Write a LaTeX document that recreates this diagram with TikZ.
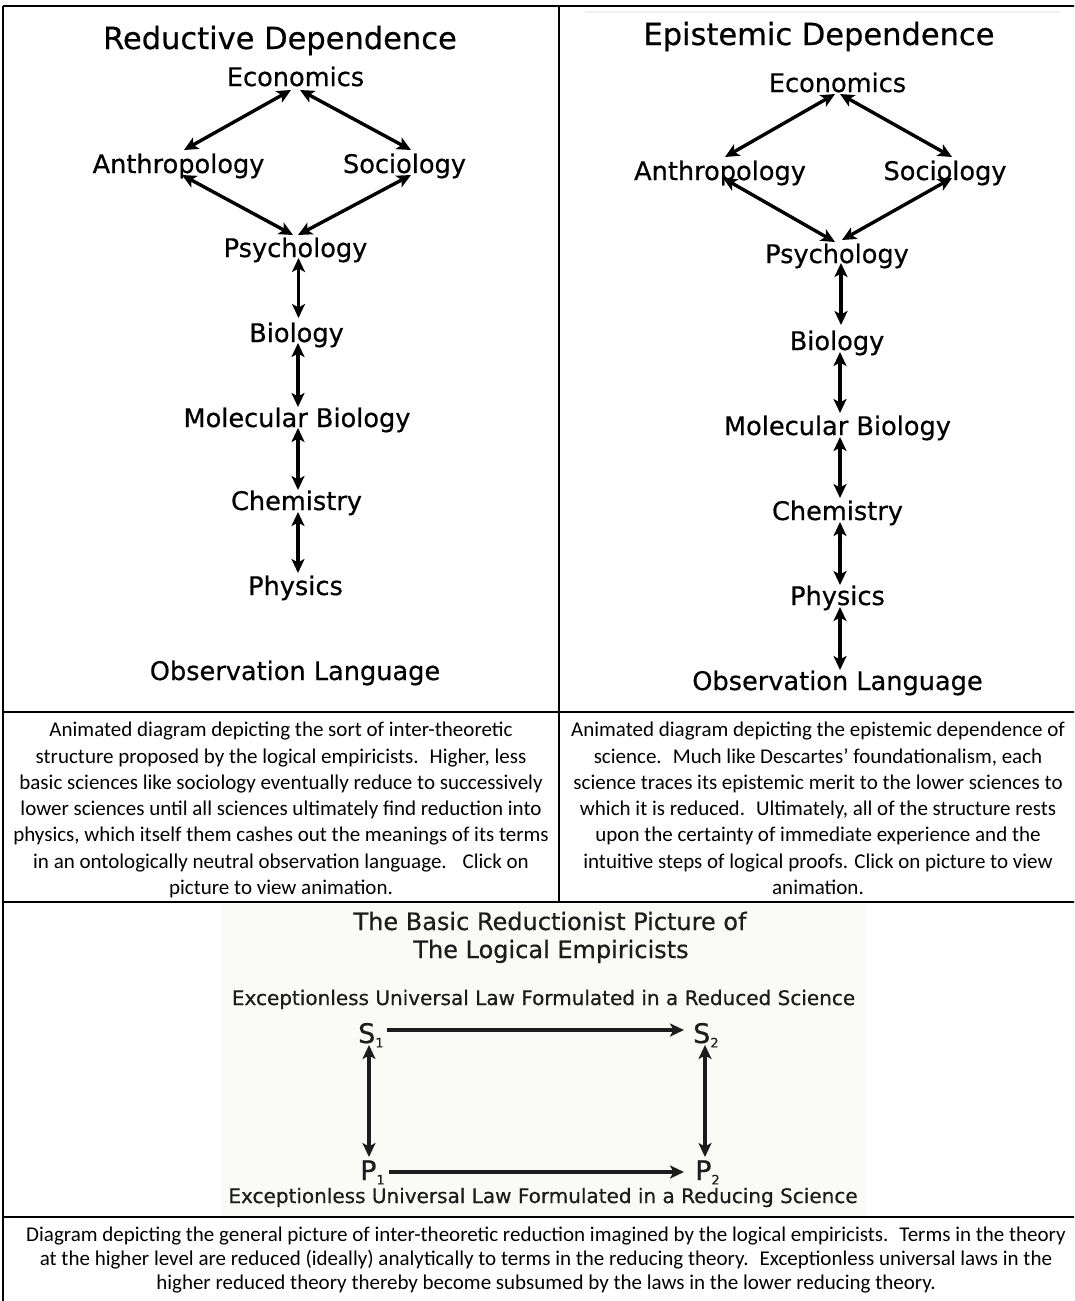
\documentclass[tikz,border=0pt]{standalone}
\usepackage{fontspec}
\setmainfont{Carlito}
\newfontfamily\comicf[RawFeature={embolden=0.6}]{DejaVu Sans}
\usetikzlibrary{arrows.meta,calc}
\definecolor{bgc}{RGB}{250,250,247}
\definecolor{ink}{RGB}{28,28,28}
\newcommand\sbs[1]{\raisebox{-0.3ex}{\fontsize{13}{13}\selectfont #1}}
\begin{document}
\begin{tikzpicture}[x=1pt,y=-1pt,
  lbl/.style={inner sep=0pt,anchor=base,font=\comicf\fontsize{25.6}{30}\selectfont},
  ttl/.style={inner sep=0pt,anchor=base,font=\comicf\fontsize{30.5}{36}\selectfont},
  btl/.style={inner sep=0pt,anchor=base,text=ink,font=\comicf\fontsize{24}{28}\selectfont},
  law/.style={inner sep=0pt,anchor=base,text=ink,font=\comicf\fontsize{20}{24}\selectfont},
  sp/.style={inner sep=0pt,anchor=base west,text=ink,font=\comicf\fontsize{27}{30}\selectfont},
  captxt/.style={inner sep=0pt,anchor=north,align=center,font=\fontsize{21}{26.3}\selectfont},
  dbl/.style={{Stealth[length=14pt,width=13pt,inset=3.5pt]}-{Stealth[length=14pt,width=13pt,inset=3.5pt]},line width=3.4pt},
  sarr/.style={-{Stealth[length=14pt,width=13pt,inset=3.5pt]},line width=3.4pt,ink},
  gridline/.style={line width=2.2pt,black}
]
\useasboundingbox (0,0) rectangle (1074,1301);
\clip (0,0) rectangle (1074,1301);

% table grid
\draw[gridline] (3,6) -- (1085,6);
\draw[gridline] (3,6) -- (3,1310);
\draw[gridline] (559,6) -- (559,902);
\draw[gridline] (3,712) -- (1085,712);
\draw[gridline] (3,902) -- (1085,902);
\draw[gridline] (3,1217) -- (1085,1217);
\draw[gray!12,line width=1.5pt] (585,12) -- (1060,12);

% left diagram
\node[ttl] (tL) at (280,49) {Reductive Dependence};
\node[lbl] (econL) at (295.5,86) {Economics};
\node[lbl] (anthL) at (178.5,173) {Anthropology};
\node[lbl] (socL) at (404.5,173) {Sociology};
\node[lbl] (psyL) at (295.5,257) {Psychology};
\node[lbl] (bioL) at (296.5,342) {Biology};
\node[lbl] (molL) at (297,427) {Molecular Biology};
\node[lbl] (chemL) at (296.5,510) {Chemistry};
\node[lbl] (phyL) at (295.5,595) {Physics};
\node[lbl] (obsL) at (295,680) {Observation Language};

\draw[dbl] ($(econL.base)+(-4.5,4)$) -- ($(anthL.base)+(5.5,-23)$);
\draw[dbl] ($(econL.base)+(4.5,4)$) -- ($(socL.base)+(6.5,-23)$);
\draw[dbl] ($(anthL.base)+(3.5,2)$) -- ($(psyL.base)+(-2.5,-22)$);
\draw[dbl] ($(socL.base)+(6.5,2)$) -- ($(psyL.base)+(2.5,-22)$);
\draw[dbl] ($(psyL.base)+(3,1)$) -- ($(bioL.base)+(2,-24)$);
\draw[dbl] ($(bioL.base)+(1.5,1)$) -- ($(molL.base)+(1,-20)$);
\draw[dbl] ($(molL.base)+(1,1)$) -- ($(chemL.base)+(1.5,-20)$);
\draw[dbl] ($(chemL.base)+(1.5,2)$) -- ($(phyL.base)+(2.5,-22)$);

% right diagram
\node[ttl] (tR) at (819,45) {Epistemic Dependence};
\node[lbl] (econR) at (837.5,92) {Economics};
\node[lbl] (anthR) at (720,180) {Anthropology};
\node[lbl] (socR) at (945,180) {Sociology};
\node[lbl] (psyR) at (837,263) {Psychology};
\node[lbl] (bioR) at (837,350) {Biology};
\node[lbl] (molR) at (837.5,435) {Molecular Biology};
\node[lbl] (chemR) at (837.5,520) {Chemistry};
\node[lbl] (phyR) at (837.5,605) {Physics};
\node[lbl] (obsR) at (837.5,690) {Observation Language};

\draw[dbl] ($(econR.base)+(-2.5,2)$) -- ($(anthR.base)+(5,-23)$);
\draw[dbl] ($(econR.base)+(2.5,2)$) -- ($(socR.base)+(7,-23)$);
\draw[dbl] ($(anthR.base)+(3,-2)$) -- ($(psyR.base)+(-2,-21)$);
\draw[dbl] ($(socR.base)+(7,-2)$) -- ($(psyR.base)+(5,-23)$);
\draw[dbl] ($(psyR.base)+(4,0)$) -- ($(bioR.base)+(4,-25)$);
\draw[dbl] ($(bioR.base)+(3,2)$) -- ($(molR.base)+(2.5,-22)$);
\draw[dbl] ($(molR.base)+(2.5,2)$) -- ($(chemR.base)+(2.5,-22)$);
\draw[dbl] ($(chemR.base)+(2.5,2)$) -- ($(phyR.base)+(2.5,-20)$);
\draw[dbl] ($(phyR.base)+(2.5,2)$) -- ($(obsR.base)+(2.5,-20)$);

% captions
\node[captxt] (capL) at (281,722) {Animated diagram depicting the sort of inter-theoretic\\
structure proposed by the logical empiricists.~ Higher, less\\
basic sciences like sociology eventually reduce to successively\\
lower sciences until all sciences ultimately find reduction into\\
physics, which itself them cashes out the meanings of its terms\\
in an ontologically neutral observation language.~~ Click on\\
picture to view animation.};
\node[captxt] (capR) at (818,722) {Animated diagram depicting the epistemic dependence of\\
science.~ Much like Descartes’ foundationalism, each\\
science traces its epistemic merit to the lower sciences to\\
which it is reduced.~ Ultimately, all of the structure rests\\
upon the certainty of immediate experience and the\\
intuitive steps of logical proofs. Click on picture to view\\
animation.};

% bottom diagram
\fill[bgc] (222,904) rectangle (865,1216);
\node[btl] (bt1) at (550,930) {The Basic Reductionist Picture of};
\node[btl] (bt2) at (551,958) {The Logical Empiricists};
\node[law] (lawS) at (543.5,1005) {Exceptionless Universal Law Formulated in a Reduced Science};
\node[sp] (S1) at (358,1043) {S\sbs{1}};
\node[sp] (S2) at (693,1043) {S\sbs{2}};
\node[sp] (P1) at (360,1180) {P\sbs{1}};
\node[sp] (P2) at (695,1180) {P\sbs{2}};
\node[law] (lawP) at (543,1203) {Exceptionless Universal Law Formulated in a Reducing Science};
\draw[sarr] ($(S1.base west)+(29,-13)$) -- ($(S2.base west)+(-9,-13)$);
\draw[dbl,ink] ($(S1.base west)+(11,2)$) -- ($(P1.base west)+(9,-23)$);
\draw[dbl,ink] ($(S2.base west)+(12,2)$) -- ($(P2.base west)+(10,-23)$);
\draw[sarr] ($(P1.base west)+(29,-8)$) -- ($(P2.base west)+(-11,-8)$);

\node[captxt,font=\fontsize{21}{24}\selectfont] (capB) at (546,1227) {Diagram depicting the general picture of inter-theoretic reduction imagined by the logical empiricists.~ Terms in the theory\\
at the higher level are reduced (ideally) analytically to terms in the reducing theory.~ Exceptionless universal laws in the\\
higher reduced theory thereby become subsumed by the laws in the lower reducing theory.};
\end{tikzpicture}
\end{document}
